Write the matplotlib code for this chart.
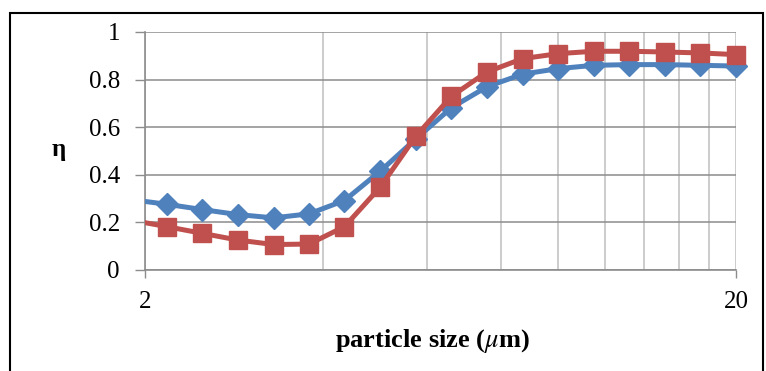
import numpy as np
import matplotlib.pyplot as plt
from matplotlib.patches import Rectangle

plt.rcParams['font.family'] = ['Liberation Serif', 'DejaVu Serif']
plt.rcParams['mathtext.fontset'] = 'stix'

# particle sizes (um) and efficiencies
size = [1.89, 2.18, 2.5, 2.87, 3.3, 3.79, 4.35, 5.0, 5.74, 6.6,
        7.58, 8.71, 10.0, 11.49, 13.2, 15.16, 17.41, 20.0]
eta_blue = [0.296, 0.276, 0.254, 0.233, 0.219, 0.236, 0.292, 0.415, 0.55, 0.682,
            0.77, 0.823, 0.846, 0.86, 0.863, 0.863, 0.86, 0.857]
eta_red = [0.21, 0.182, 0.154, 0.126, 0.107, 0.109, 0.182, 0.348, 0.561, 0.73,
           0.832, 0.888, 0.909, 0.919, 0.919, 0.916, 0.912, 0.905]
yticks = [0, 0.2, 0.4, 0.6, 0.8, 1]
ytick_labels = ['0', '0.2', '0.4', '0.6', '0.8', '1']

blue = '#4F81BD'
red = '#C0504D'

fig = plt.figure(figsize=(7.66, 3.71), dpi=100)
ax = fig.add_axes([145/766, 1-270/371, (736-145)/766, (270-32)/371])

x = np.array(size)
shown = x >= 2

# lines clipped at the axes, markers allowed to spill over the edge
ax.plot(x, eta_blue, color=blue, lw=3.6, zorder=3)
ax.plot(x, eta_red, color=red, lw=3.6, zorder=4)
ax.plot(x[shown], np.array(eta_blue)[shown], ls='none', marker='D', ms=11.5,
        color=blue, clip_on=False, zorder=3)
ax.plot(x[shown], np.array(eta_red)[shown], ls='none', marker='s', ms=13,
        color=red, clip_on=False, zorder=4)

ax.set_xscale('log')
ax.set_xlim(2, 20)
ax.set_ylim(0, 1)
ax.set_xticks([2, 20])
ax.set_xticklabels(['2', '20'])
ax.set_xticks([4, 6, 8, 10, 12, 14, 16, 18], minor=True)
ax.xaxis.set_minor_formatter(plt.NullFormatter())
ax.set_yticks(yticks)
ax.set_yticklabels(ytick_labels)

ax.tick_params(axis='x', which='major', length=6, width=1, color='#8C8C8C',
               labelsize=18, pad=9)
ax.tick_params(axis='x', which='minor', length=0)
ax.tick_params(axis='y', length=7, width=1, color='#8C8C8C', labelsize=18, pad=11)

ax.grid(True, axis='y', color='#8C8C8C', lw=1.1)
ax.grid(True, axis='x', which='both', color='#BEBEBE', lw=1.1)
ax.set_axisbelow(True)

for s in ['top', 'right']:
    ax.spines[s].set_visible(False)
ax.spines['left'].set_color('#8C8C8C')
ax.spines['bottom'].set_color('#8C8C8C')
ax.spines['left'].set_linewidth(1.2)
ax.spines['bottom'].set_linewidth(1.2)

fig.text(59/766, 1-150/371, 'η', fontsize=18, fontweight='bold',
         ha='center', va='center')
fig.text(432/766, 1-341/371, r'particle size ($\mu$m)', fontsize=19,
         fontweight='bold', ha='center', va='center')

# frame around the whole chart
fig.patches.append(Rectangle((10/766, -0.05), 753/766, 1.05-13/371,
                             transform=fig.transFigure, fill=False,
                             edgecolor='black', lw=1.5))

fig.savefig('out.png', dpi=100)
